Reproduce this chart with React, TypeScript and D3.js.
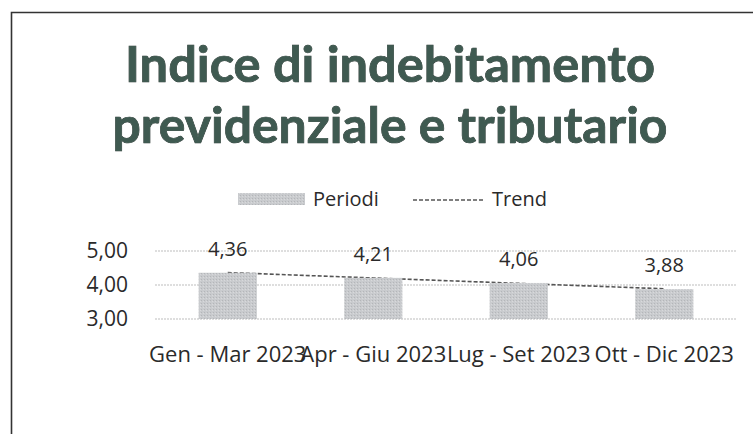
import React from "react";
import * as d3 from "d3";

const categories = ["Gen - Mar 2023", "Apr - Giu 2023", "Lug - Set 2023", "Ott - Dic 2023"];
const values = [4.36, 4.21, 4.06, 3.88];
const yTicks = [3, 4, 5];
const titleLines = ["Indice di indebitamento", "previdenziale e tributario"];
const legendLabels = ["Periodi", "Trend"];

const fmt = (v: number) => v.toFixed(2).replace(".", ",");

export default function App() {
  const W = 753, H = 434;
  const x = d3.scaleBand<string>().domain(categories).range([155, 737]).paddingInner(0.6).paddingOuter(0.3);
  const y = d3.scaleLinear().domain([3, 5]).range([319, 251]);

  // linear trend (least squares)
  const xs = values.map((_, i) => i + 1);
  const mx = d3.mean(xs)!;
  const my = d3.mean(values)!;
  const slope = d3.sum(xs.map((xi, i) => (xi - mx) * (values[i] - my))) / d3.sum(xs.map((xi) => (xi - mx) ** 2));
  const trendPts: [number, number][] = xs.map((xi, i) => [x(categories[i])! + x.bandwidth() / 2, y(my + slope * (xi - mx))]);
  const line = d3.line();

  const font = "'Open Sans', 'Noto Sans', sans-serif";
  const textColor = "#2a2a2a";

  return (
    <svg width={W} height={H} style={{ position: "absolute", left: 0, top: 0, background: "#fff" }} fontFamily={font}>
      <defs>
        <pattern id="tex" width="3" height="3" patternUnits="userSpaceOnUse">
          <rect width="3" height="3" fill="#c9cbce" />
          <rect width="1" height="1" fill="#b4b6b9" />
          <rect x="2" y="1" width="1" height="1" fill="#d8d9db" />
        </pattern>
      </defs>
      {/* frame */}
      <path d="M11.5,434 L11.5,12.5 L753,12.5" fill="none" stroke="#333" strokeWidth={1.6} />
      {/* title */}
      {titleLines.map((t, i) => (
        <text key={t} x={390} y={82 + i * 61} textAnchor="middle" fontSize={49} fontWeight={700}
          fontFamily="Lato, 'Open Sans', sans-serif"
          fill="#3f5a51" stroke="#1c2824" strokeWidth={0.7} paintOrder="stroke"
          textLength={i === 0 ? 530 : 555} lengthAdjust="spacingAndGlyphs">{t}</text>
      ))}
      {/* legend */}
      <rect x={238} y={193} width={67} height={12} fill="url(#tex)" />
      <text x={313} y={206} fontSize={20} fill={textColor}>{legendLabels[0]}</text>
      <line x1={413} x2={483} y1={200} y2={200} stroke="#555" strokeWidth={1.5} strokeDasharray="4 2" />
      <text x={492} y={206} fontSize={20} fill={textColor}>{legendLabels[1]}</text>
      {/* grid */}
      {yTicks.map((t) => (
        <g key={t}>
          <line x1={155} x2={737} y1={y(t)} y2={y(t)} stroke="#bdbdbd" strokeWidth={1} strokeDasharray="2 1" />
          <text x={128} y={y(t)} dy="0.35em" textAnchor="end" fontSize={21} fill={textColor}>{fmt(t)}</text>
        </g>
      ))}
      {/* trend behind bars */}
      <path d={line(trendPts)!} fill="none" stroke="#555" strokeWidth={1.6} strokeDasharray="4 2" />
      {/* bars */}
      {categories.map((c, i) => (
        <g key={c}>
          <rect x={x(c)} y={y(values[i])} width={x.bandwidth()} height={y(3) - y(values[i])} fill="url(#tex)" />
          <text x={x(c)! + x.bandwidth() / 2} y={y(values[i]) - 17} textAnchor="middle" fontSize={20} fill={textColor}>{fmt(values[i])}</text>
          <text x={x(c)! + x.bandwidth() / 2} y={362} textAnchor="middle" fontSize={22} fill={textColor}>{c}</text>
        </g>
      ))}
    </svg>
  );
}
